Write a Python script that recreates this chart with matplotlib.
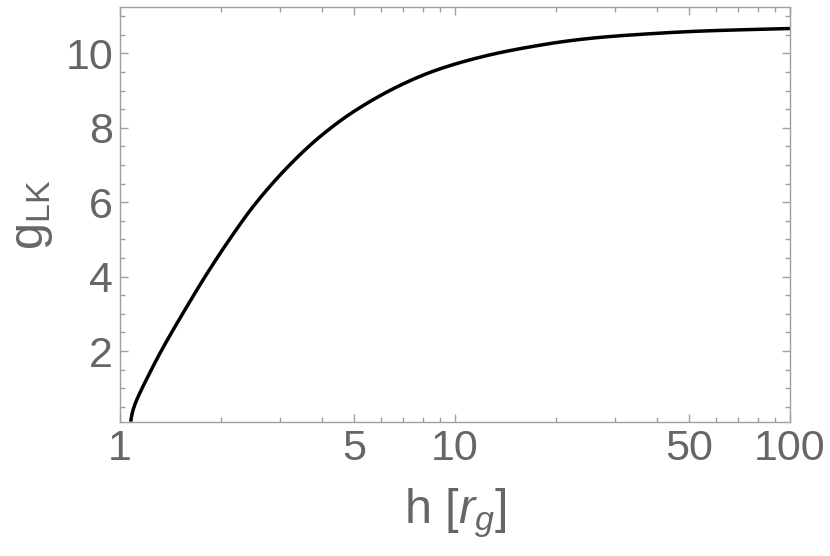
import matplotlib

matplotlib.use("Agg")
import matplotlib.pyplot as plt
import numpy as np
from matplotlib.ticker import FixedLocator, FixedFormatter, MultipleLocator

# curve (h in r_g, g_LK)
h_vals = [1.076, 1.086, 1.096, 1.121, 1.147, 1.20, 1.316, 1.58, 1.815, 2.13,
          2.50, 3.145, 3.95, 5.01, 6.85, 8.6, 10.8, 13.6, 17.1, 21.5,
          27.0, 34.0, 54.0, 100.0]
g_vals = [0.10, 0.30, 0.44, 0.68, 0.88, 1.24, 1.94, 3.18, 4.07, 5.02,
          5.89, 6.92, 7.76, 8.45, 9.14, 9.52, 9.80, 10.02, 10.19, 10.33,
          10.43, 10.50, 10.60, 10.67]

x_major = [1, 5, 10, 50, 100]
x_major_labels = ["1", "5", "10", "50", "100"]
x_minor = [2, 3, 4, 6, 7, 8, 9, 20, 30, 40, 60, 70, 80, 90]
y_major = [2, 4, 6, 8, 10]

frame_col = "#a0a0a0"
text_col = "#666666"


def pchip(x, y, xs):
    """Monotone cubic (Fritsch-Carlson) through the read points."""
    x = np.asarray(x, float)
    y = np.asarray(y, float)
    hk = np.diff(x)
    dk = np.diff(y) / hk
    m = np.zeros_like(y)
    for i in range(1, len(x) - 1):
        if dk[i - 1] * dk[i] > 0:
            w1 = 2 * hk[i] + hk[i - 1]
            w2 = hk[i] + 2 * hk[i - 1]
            m[i] = (w1 + w2) / (w1 / dk[i - 1] + w2 / dk[i])
    m[0] = dk[0]
    m[-1] = dk[-1]
    idx = np.clip(np.searchsorted(x, xs) - 1, 0, len(x) - 2)
    t = (xs - x[idx]) / hk[idx]
    h00 = 2 * t**3 - 3 * t**2 + 1
    h10 = t**3 - 2 * t**2 + t
    h01 = -2 * t**3 + 3 * t**2
    h11 = t**3 - t**2
    return (h00 * y[idx] + h10 * hk[idx] * m[idx]
            + h01 * y[idx + 1] + h11 * hk[idx] * m[idx + 1])


plt.rcParams["font.family"] = ["Liberation Sans", "DejaVu Sans"]
plt.rcParams["mathtext.fontset"] = "custom"
plt.rcParams["mathtext.rm"] = "Liberation Sans"
plt.rcParams["mathtext.it"] = "Liberation Sans:italic"

fig = plt.figure(figsize=(8.3, 5.56), dpi=100)
ax = fig.add_axes([120 / 830, 1 - 421.7 / 556, 670 / 830, 414.4 / 556])

lh = np.log10(h_vals)
lh_fine = np.linspace(lh[0], lh[-1], 800)
g_fine = pchip(lh, g_vals, lh_fine)
ax.plot(10 ** lh_fine, g_fine, color="black", lw=2.5, solid_capstyle="butt")

ax.set_xscale("log")
ax.set_xlim(1, 100)
ax.set_ylim(0.1, 11.24)

ax.xaxis.set_major_locator(FixedLocator(x_major))
ax.xaxis.set_major_formatter(FixedFormatter(x_major_labels))
ax.xaxis.set_minor_locator(FixedLocator(x_minor))
ax.xaxis.set_minor_formatter(FixedFormatter([""] * len(x_minor)))
ax.yaxis.set_major_locator(FixedLocator(y_major))
ax.yaxis.set_minor_locator(MultipleLocator(0.5))

ax.tick_params(which="both", direction="in", top=True, right=True,
               color=frame_col, width=1.0, labelcolor=text_col,
               labelsize=31)
ax.tick_params(which="major", length=6)
ax.tick_params(which="minor", length=3.5)
ax.tick_params(axis="x", which="major", pad=5)
ax.tick_params(axis="y", which="major", pad=5)

for sp in ax.spines.values():
    sp.set_color(frame_col)
    sp.set_linewidth(1.0)

ax.set_xlabel("h [$r_g$]", fontsize=35, color=text_col)
ax.set_ylabel(r"g$_{\mathrm{LK}}$", fontsize=35, color=text_col)
ax.xaxis.set_label_coords(0.5, -0.155)
ax.yaxis.set_label_coords(-0.097, 0.5)

fig.savefig("out.png", dpi=100)
plt.close(fig)
